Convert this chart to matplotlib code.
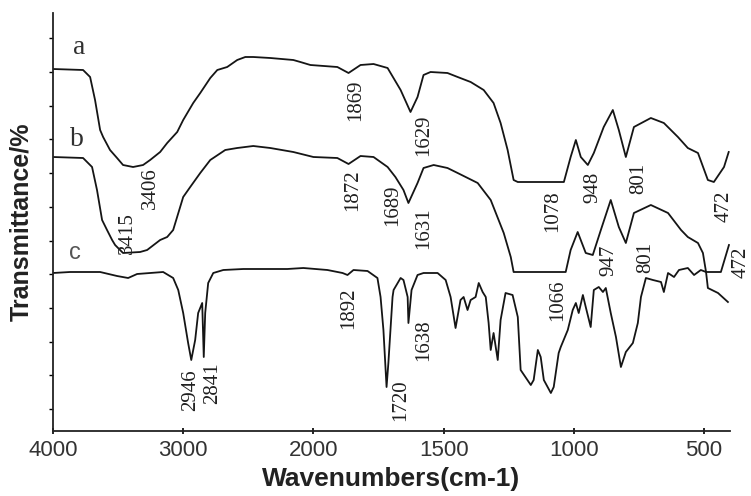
import matplotlib
matplotlib.use("Agg")
import matplotlib.pyplot as plt
import numpy as np

# FTIR spectra, wavenumber (cm-1) vs transmittance (arbitrary offset units)
wn_a = [4000, 3769, 3715, 3677, 3638, 3615, 3562, 3508, 3462, 3385, 3308, 3254, 3177,
        3123, 3046, 3000, 2923, 2869, 2792, 2738, 2662, 2585, 2523, 2462, 2331, 2154,
        2100, 2023, 1908, 1865, 1819, 1769, 1715, 1665, 1627, 1600, 1577, 1550, 1485,
        1446, 1396, 1346, 1308, 1281, 1254, 1231, 1215, 1038, 1012, 992, 973, 946, 923,
        885, 850, 827, 800, 769, 704, 654, 600, 562, 523, 485, 462, 423, 405]
tr_a = [362, 361, 354, 331, 301, 294, 281, 273, 266, 264, 266, 271, 279,
        288, 299, 311, 328, 338, 353, 361, 364, 371, 374, 374, 373, 371,
        369, 366, 364, 358, 366, 367, 363, 341, 319, 334, 356, 359, 358,
        354, 349, 341, 328, 308, 281, 251, 249, 249, 274, 291, 274, 266, 278,
        304, 321, 301, 274, 304, 313, 308, 294, 283, 278, 251, 249, 264, 279]

wn_b = [4000, 3769, 3700, 3662, 3623, 3585, 3546, 3523, 3462, 3331, 3277, 3177, 3123,
        3077, 3000, 2946, 2869, 2792, 2677, 2585, 2462, 2331, 2154, 2000, 1908, 1865,
        1819, 1769, 1715, 1685, 1654, 1635, 1600, 1577, 1538, 1485, 1446, 1369, 1319,
        1269, 1242, 1231, 1031, 1012, 985, 954, 927, 896, 858, 827, 800, 769, 704, 638,
        588, 562, 523, 504, 492, 435, 404]
tr_b = [274, 273, 264, 241, 211, 201, 191, 186, 178, 179, 181, 191, 194,
        201, 234, 244, 258, 271, 281, 283, 285, 283, 279, 274, 273, 267,
        275, 274, 264, 254, 241, 228, 248, 263, 266, 263, 258, 248, 231,
        198, 174, 159, 159, 181, 199, 178, 176, 201, 231, 204, 188, 218, 226, 218,
        201, 194, 188, 178, 159, 159, 186]

wn_c = [4000, 3869, 3638, 3508, 3423, 3354, 3154, 3077, 3038, 3000, 2962, 2938, 2908,
        2885, 2854, 2842, 2831, 2808, 2769, 2692, 2538, 2200, 2077, 1946, 1888, 1869,
        1846, 1792, 1754, 1742, 1731, 1719, 1712, 1696, 1692, 1665, 1654, 1638, 1635,
        1623, 1600, 1577, 1523, 1492, 1473, 1454, 1435, 1423, 1408, 1396, 1377, 1365,
        1350, 1338, 1327, 1319, 1308, 1292, 1281, 1262, 1235, 1215, 1204, 1165, 1154,
        1138, 1127, 1115, 1088, 1077, 1058, 1050, 1023, 1004, 992, 981, 965, 954, 935,
        923, 904, 888, 877, 858, 838, 819, 800, 773, 754, 742, 723, 696, 665, 654, 638,
        615, 596, 562, 538, 512, 492, 485, 446, 408]
tr_c = [158, 159, 159, 155, 153, 157, 159, 153, 141, 118, 88, 71, 91,
        118, 128, 74, 118, 148, 158, 161, 162, 162, 163, 161, 158, 156,
        161, 160, 153, 134, 101, 44, 68, 134, 141, 153, 151, 134, 108,
        141, 156, 158, 158, 151, 134, 103, 131, 134, 121, 131, 134, 148,
        139, 134, 108, 81, 98, 71, 111, 138, 136, 114, 61, 46, 51,
        81, 74, 51, 38, 44, 78, 84, 101, 121, 128, 118, 136, 124, 104,
        141, 144, 139, 143, 118, 94, 64, 79, 88, 108, 134, 153, 151, 149, 139, 158,
        154, 161, 163, 156, 161, 159, 143, 138, 129]

# peak labels: text, wavenumber, transmittance
peak_text = ["3406", "3415", "1869", "1872", "1629", "1689", "1631", "1078", "948", "801",
             "472", "1066", "947", "801", "472", "2946", "2841", "1892", "1720", "1638"]
peak_wn = [3254, 3431, 1838, 1850, 1577, 1696, 1577, 1081, 927, 750,
           423, 1062, 865, 723, 358, 2946, 2777, 1865, 1665, 1577]
peak_tr = [243, 198, 331, 241, 296, 226, 203, 220, 244, 253,
           225, 131, 171, 174, 169, 41, 48, 123, 31, 91]

curve_names = ["a", "b", "c"]
name_wn = [3800, 3815, 3831]
name_tr = [384, 291, 178]


def fwd(w):
    w = np.asarray(w, dtype=float)
    return np.where(w > 2000, 2000 + (w - 2000) / 2, w)


def inv(p):
    p = np.asarray(p, dtype=float)
    return np.where(p > 2000, 2000 + (p - 2000) * 2, p)


fig = plt.figure(figsize=(7.51, 4.96), dpi=100)
ax = fig.add_axes([53 / 751, 1 - 431 / 496, 677 / 751, 418 / 496])
ax.set_xscale("function", functions=(fwd, inv))

for wn, tr in [(wn_a, tr_a), (wn_b, tr_b), (wn_c, tr_c)]:
    ax.plot(wn, tr, color="#151515", lw=1.3)

serif = ["Liberation Serif", "DejaVu Serif"]
for t, x, y in zip(peak_text, peak_wn, peak_tr):
    ax.text(x, y, t, rotation=90, ha="center", va="center", fontsize=15,
            family=serif, color="#202020", clip_on=False)

for i, (n, x, y) in enumerate(zip(curve_names, name_wn, name_tr)):
    fam = serif if i < 2 else ["Liberation Sans"]
    ax.text(x, y, n, ha="center", va="center", fontsize=20 if i < 2 else 17,
            family=fam, color="#303030" if i < 2 else "#555555")

ax.set_xlim(4000, 400)
ax.set_ylim(0, 418)
ax.set_xticks([4000, 3000, 2000, 1500, 1000, 500])
ax.set_xticklabels(["4000", "3000", "2000", "1500", "1000", "500"],
                   family="Liberation Sans", fontsize=16, color="#333333")
ax.set_yticks(np.arange(22, 400, 33.7))
ax.set_yticklabels([])
ax.tick_params(axis="y", direction="out", length=3, width=1)
ax.tick_params(axis="x", direction="inout", length=5, width=1.2, pad=4)

for s in ["top", "right"]:
    ax.spines[s].set_visible(False)
for s in ["left", "bottom"]:
    ax.spines[s].set_linewidth(1.3)
    ax.spines[s].set_color("#222222")

ax.set_xlabel("Wavenumbers(cm-1)", family="Liberation Sans", fontsize=19,
              fontweight="bold", color="#222222", labelpad=4)
ax.set_ylabel("Transmittance/%", family="Liberation Sans", fontsize=18,
              fontweight="bold", color="#222222", labelpad=8)

fig.savefig("out.png", dpi=100)
